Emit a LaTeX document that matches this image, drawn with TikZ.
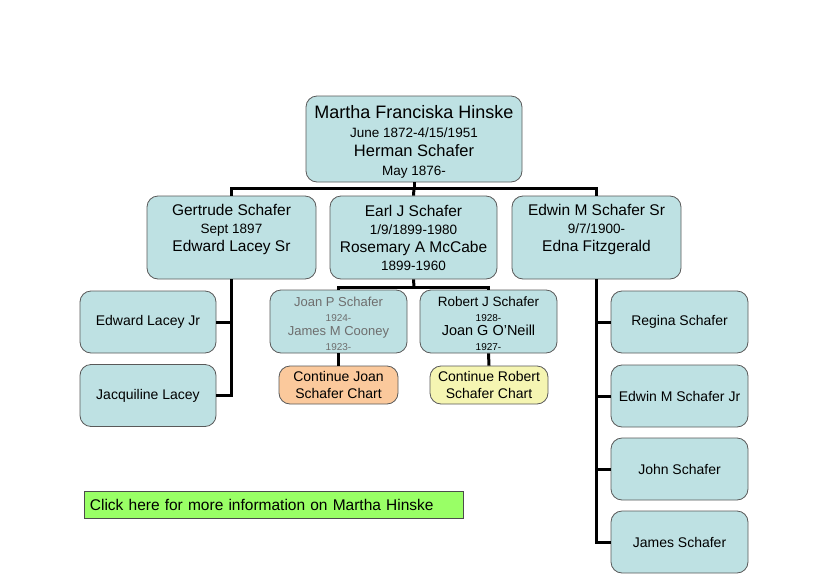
\documentclass[tikz,border=0pt]{standalone}
\usepackage{fontspec}
\setmainfont{Liberation Sans}
\begin{document}
\begin{tikzpicture}[x=1pt,y=-1pt,
  box/.style={draw=black!65, line width=0.8pt, rounded corners=11pt, fill=boxblue, align=center, inner sep=0pt},
  conn/.style={draw=black, line width=3pt},
  big/.style={font=\fontsize{15.5}{18}\selectfont},
  leaf/.style={box, minimum width=136pt, minimum height=62pt, font=\fontsize{14}{16}\selectfont}
]
\definecolor{boxblue}{RGB}{190,225,227}
\definecolor{orangebox}{RGB}{251,201,156}
\definecolor{yellowbox}{RGB}{245,245,178}
\definecolor{greenbox}{RGB}{153,255,102}
\definecolor{graytext}{RGB}{110,110,110}
\newcommand\sm[1]{{\fontsize{13.5}{18}\selectfont #1}}
\newcommand\tn[1]{{\fontsize{10}{14}\selectfont #1}}
\useasboundingbox (0,0) rectangle (828,576);

% nodes
\node[box, minimum width=216pt, minimum height=86pt, font=\fontsize{16.5}{19}\selectfont] (m) at (414,139)
  {\rule{0pt}{19pt}{\fontsize{18}{19}\selectfont Martha Franciska Hinske}\\ \sm{June 1872-4/15/1951}\\ Herman Schafer\\ \sm{May 1876-}};
\node[box, big, minimum width=169pt, minimum height=83pt, text depth=20pt] (g) at (231.5,237.5)
  {Gertrude Schafer\\ \sm{Sept 1897}\\ Edward Lacey Sr};
\node[box, big, minimum width=167pt, minimum height=83pt] (e) at (413.5,237.5)
  {Earl J Schafer\\ \sm{1/9/1899-1980}\\ Rosemary A McCabe\\ \sm{1899-1960}};
\node[box, big, minimum width=169pt, minimum height=83pt, text depth=20pt] (w) at (596.5,237.5)
  {Edwin M Schafer Sr\\ \sm{9/7/1900-}\\ Edna Fitzgerald};

\node[box, minimum width=137pt, minimum height=63pt, font=\fontsize{13}{14.5}\selectfont, text=graytext] (j) at (338.5,321.5)
  {\rule{0pt}{14pt}Joan P Schafer\\ \tn{1924-}\\ James M Cooney\\ \tn{1923-}};
\node[box, minimum width=137pt, minimum height=63pt, font=\fontsize{13.5}{14.5}\selectfont] (r) at (488.5,321.5)
  {\rule{0pt}{14pt}Robert J Schafer\\ \tn{1928-}\\ {\fontsize{14.5}{14.5}\selectfont Joan G O’Neill}\\ \tn{1927-}};

\node[box, fill=orangebox, minimum width=119pt, minimum height=38pt, font=\fontsize{14}{16.5}\selectfont] (cj) at (338.5,385)
  {Continue Joan\\ Schafer Chart};
\node[box, fill=yellowbox, minimum width=118pt, minimum height=38pt, font=\fontsize{14}{16.5}\selectfont] (cr) at (489,385)
  {Continue Robert\\ Schafer Chart};

\node[leaf] (l1) at (148,322) {Edward Lacey Jr};
\node[leaf] (l2) at (148,395.5) {Jacquiline Lacey};

\node[leaf, minimum width=137pt] (s1) at (679.5,322) {Regina Schafer};
\node[leaf, minimum width=137pt] (s2) at (679.5,396) {Edwin M Schafer Jr};
\node[leaf, minimum width=137pt] (s3) at (679.5,469) {John Schafer};
\node[leaf, minimum width=137pt] (s4) at (679.5,542) {James Schafer};

\node[draw=black!70, line width=0.8pt, fill=greenbox, minimum width=379pt, minimum height=27pt, anchor=west, inner sep=0pt, text width=376pt, align=left, font=\fontsize{15.5}{18}\selectfont] (info) at (84,504.5)
  {\hspace*{4pt}Click here for more information on Martha Hinske};

% connectors
\coordinate (b1) at (414,188);
\coordinate (b2) at (414,287);
\draw[conn] (m.south) -- (b1);
\draw[conn] (g.north) -- (g.north |- b1) -- (w.north |- b1) -- (w.north);
\draw[conn] (e.north) -- (b1);
\draw[conn] (e.south) -- (b2);
\draw[conn] (j.north) -- (j.north |- b2) -- (r.north |- b2) -- (r.north);
\draw[conn] (j.south) -- (cj.north);
\draw[conn] (r.south) -- (cr.north);
\draw[conn] (g.south) -- (g.south |- l2.east) -- (l2.east);
\draw[conn] (l1.east) -- (l1.east -| g.south);
\draw[conn] (w.south) -- (w.south |- s4.west) -- (s4.west);
\draw[conn] (s1.west) -- (s1.west -| w.south);
\draw[conn] (s2.west) -- (s2.west -| w.south);
\draw[conn] (s3.west) -- (s3.west -| w.south);
\end{tikzpicture}
\end{document}
